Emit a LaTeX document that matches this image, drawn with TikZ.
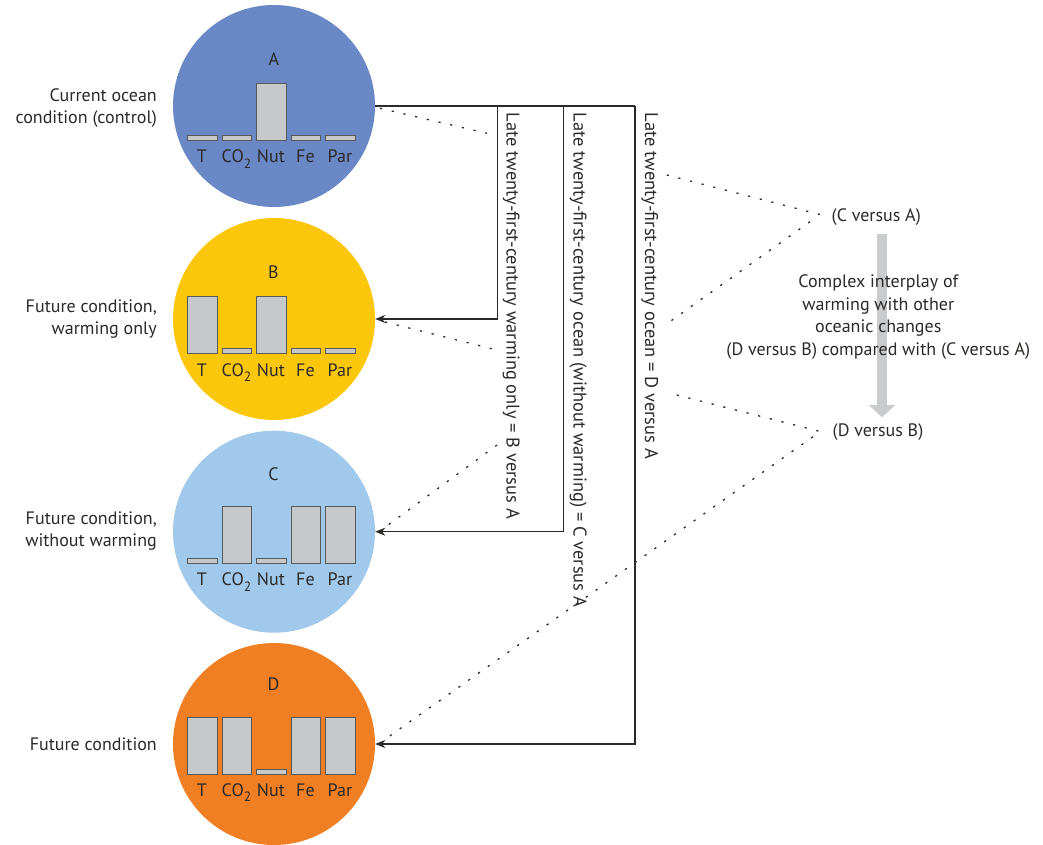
\documentclass[tikz,border=0pt]{standalone}
\usepackage{fontspec}
\setmainfont{PT Sans}
\usetikzlibrary{arrows.meta}
\definecolor{cA}{HTML}{6A88C6}
\definecolor{cB}{HTML}{FCC70A}
\definecolor{cC}{HTML}{A0C9EC}
\definecolor{cD}{HTML}{EF7F22}
\definecolor{barfill}{HTML}{C7C8CA}
\definecolor{barline}{HTML}{58595B}
\definecolor{ink}{HTML}{2B2A29}
\definecolor{bigarrow}{HTML}{CACBCC}
\tikzset{
  circ/.style={circle, minimum size=202pt, inner sep=0pt, draw=none},
  bar/.style={rectangle, fill=barfill, draw=barline, line width=0.9pt, minimum width=29.5pt, inner sep=0pt},
  lab/.style={anchor=base, inner sep=0pt, text=ink},
  conn/.style={draw=ink, line width=1.2pt},
  tip/.style={-{Stealth[length=10pt,width=8pt,inset=3pt]}},
  dotline/.style={draw=ink, line width=1.3pt, dash pattern=on 2.2pt off 9.8pt},
  rottext/.style={rotate=-90, anchor=base west, inner sep=0pt, text=ink, font=\fontsize{18.4}{22.5}\selectfont},
  sidelab/.style={anchor=east, align=right, inner sep=0pt, text=ink},
}
\newcommand{\subtwo}{\raisebox{-0.32em}{\fontsize{13.5}{13.5}\selectfont 2}}
\newcommand{\oceanbars}[8]{%
  \foreach \k/\xl/\h/\lab in {1/187/#4/T, 2/221.7/#5/{CO\subtwo}, 3/256.2/#6/Nut, 4/290.7/#7/Fe, 5/325.2/#8/Par}{%
    \node[bar, minimum height=\h pt, anchor=south west] (#1bar\k) at (\xl,#2) {};
    \node[lab] (#1lab\k) at (\xl+14.75,#3) {\lab};
  }}
\begin{document}
\begin{tikzpicture}[x=1pt,y=-1pt, font=\fontsize{18}{22.5}\selectfont]
\useasboundingbox (0,0) rectangle (1043,845);
% circles
\node[circ, fill=cA] (A) at (274,106) {};
\node[circ, fill=cB] (B) at (274,319) {};
\node[circ, fill=cC] (C) at (274,531.7) {};
\node[circ, fill=cD] (D) at (274,744) {};
% circle titles
\node[lab] (tA) at (274,65.3) {A};
\node[lab] (tB) at (273.5,278.3) {B};
\node[lab] (tC) at (273.5,480.7) {C};
\node[lab] (tD) at (273.5,690.7) {D};
% bars
\oceanbars{a}{141}{162.7}{5.5}{5.5}{57.5}{5.5}{5.5}
\oceanbars{b}{354}{376}{57}{5.5}{57}{5.5}{5.5}
\oceanbars{c}{564}{585.3}{5.5}{57}{5.5}{57}{57}
\oceanbars{d}{775}{796}{57}{57}{5.5}{57}{57}
% left labels
\node[sidelab] (lA) at (157,108) {Current ocean\\condition (control)};
\node[sidelab] (lB) at (157,319) {Future condition,\\warming only};
\node[sidelab] (lC) at (157,531) {Future condition,\\without warming};
\node[sidelab] (lD) at (157,744) {Future condition};
% connectors
\coordinate (j1) at (497.3,106);
\coordinate (j2) at (563.3,106);
\coordinate (j3) at (635,106);
\draw[conn] (A.east) -- (j3);
\draw[conn,tip] (j1) |- (B.east);
\draw[conn,tip] (j2) |- (C.east);
\draw[conn,tip] (j3) |- (D.east);
% rotated texts
\node[rottext] (r1) at (506.5,112.7) {Late twenty-first-century warming only = B versus A};
\node[rottext] (r2) at (573.5,112.7) {Late twenty-first-century ocean (without warming) = C versus A};
\node[rottext] (r3) at (645,112.7) {Late twenty-first-century ocean = D versus A};
% right labels
\node[anchor=west, inner sep=0pt, text=ink] (CvA) at (831.5,216.7) {(C versus A)};
\node[anchor=west, inner sep=0pt, text=ink] (DvB) at (832.5,431.7) {(D versus B)};
% big gray arrow
\coordinate (g1) at (882,234);
\coordinate (g2) at (882,417.3);
\draw[draw=bigarrow, line width=10.7pt, -{Triangle[length=12.3pt,width=26pt]}] (g1) -- (g2);
\node[align=center, inner sep=0pt, text=ink] (cx) at (878.3,317) {Complex interplay of\\warming with other\\oceanic changes\\(D versus B) compared with (C versus A)};
% dotted lines
\coordinate (p1) at (380,108.3);
\coordinate (q1) at (487,133.3);
\coordinate (p2) at (385,322);
\coordinate (q2) at (497,350);
\coordinate (p3) at (497,445);
\coordinate (q3) at (384,528);
\coordinate (p4) at (666.7,175);
\coordinate (q4) at (822,215);
\coordinate (p5) at (810,221.7);
\coordinate (q5) at (668,323);
\coordinate (p6) at (676.7,395);
\coordinate (q6) at (821,431.7);
\coordinate (p7) at (813,436.7);
\coordinate (q7) at (384,740);
\draw[dotline] (p1) -- (q1);
\draw[dotline] (p2) -- (q2);
\draw[dotline] (p3) -- (q3);
\draw[dotline] (p4) -- (q4);
\draw[dotline] (p5) -- (q5);
\draw[dotline] (p6) -- (q6);
\draw[dotline] (p7) -- (q7);
\end{tikzpicture}
\end{document}
